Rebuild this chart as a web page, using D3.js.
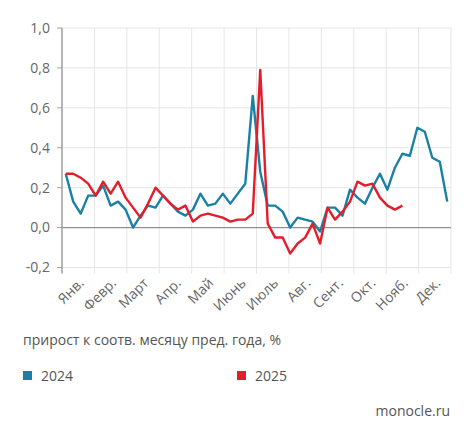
<!DOCTYPE html>
<html lang="ru">
<head>
<meta charset="UTF-8">
<title>прирост к соотв. месяцу пред. года</title>
<script src="https://d3js.org/d3.v7.min.js"></script>
<style>
    body { margin: 0; background: #fff; }
    svg { display: block; font-family: "Open Sans", "Noto Sans", sans-serif; }
    .ylab, .xlab { fill: #666; font-size: 14px; }
    .legend text { fill: #555; font-size: 14px; }
</style>
</head>
<body>
<svg width="475" height="439"></svg>
<script>
// Data: weekly values, index = week of the year
const months = ["Янв.", "Февр.", "Март", "Апр.", "Май", "Июнь", "Июль", "Авг.", "Сент.", "Окт.", "Нояб.", "Дек."];
const yTicks = [-0.2, 0, 0.2, 0.4, 0.6, 0.8, 1.0];
const values2024 = [0.27, 0.13, 0.07, 0.16, 0.16, 0.21, 0.11, 0.13, 0.09, 0.00,
    0.06, 0.11, 0.10, 0.16, 0.12, 0.08, 0.06, 0.09, 0.17, 0.11,
    0.12, 0.17, 0.12, 0.17, 0.22, 0.66, 0.28, 0.11, 0.11, 0.08,
    0.00, 0.05, 0.04, 0.03, -0.02, 0.10, 0.10, 0.06, 0.19, 0.15,
    0.12, 0.20, 0.27, 0.19, 0.30, 0.37, 0.36, 0.50, 0.48, 0.35,
    0.33, 0.13];
const values2025 = [0.27, 0.27, 0.25, 0.22, 0.16, 0.23, 0.17, 0.23, 0.15, 0.10,
    0.05, 0.12, 0.20, 0.16, 0.12, 0.09, 0.11, 0.03, 0.06, 0.07,
    0.06, 0.05, 0.03, 0.04, 0.04, 0.07, 0.79, 0.02, -0.05, -0.05,
    -0.13, -0.08, -0.05, 0.02, -0.08, 0.10, 0.04, 0.08, 0.13, 0.23,
    0.21, 0.22, 0.15, 0.11, 0.09, 0.11];
const seriesNames = ["2024", "2025"];
const seriesColors = ["#1a80a6", "#e21e2a"];

const svg = d3.select("svg");
const plotLeft = 62, plotRight = 451, plotTop = 28, plotBottom = 267.5;
const fmt = v => d3.format(".1f")(v).replace(".", ",").replace("−", "-");

// x in months, weeks spread evenly over the year
const x = d3.scaleLinear().domain([0, 12]).range([plotLeft, plotRight]);
const weekX = i => x((i + 0.5) * 12 / 52);
const y = d3.scaleLinear().domain([-0.2, 1.0]).range([plotBottom, plotTop]);

// grid
svg.append("g").selectAll("line")
    .data(yTicks.filter(d => d !== 0))
    .join("line")
    .attr("x1", plotLeft).attr("x2", plotRight)
    .attr("y1", d => y(d)).attr("y2", d => y(d))
    .attr("stroke", "#e6e6e6").attr("stroke-width", 1);

svg.append("g").selectAll("line")
    .data(d3.range(0, 13))
    .join("line")
    .attr("x1", d => x(d)).attr("x2", d => x(d))
    .attr("y1", plotTop).attr("y2", plotBottom + 6)
    .attr("stroke", "#e6e6e6").attr("stroke-width", 1);

// y axis line + ticks
svg.append("line")
    .attr("x1", plotLeft).attr("x2", plotLeft)
    .attr("y1", plotTop).attr("y2", plotBottom + 6)
    .attr("stroke", "#a0a0a0").attr("stroke-width", 1.5);
svg.append("g").selectAll("line")
    .data(yTicks)
    .join("line")
    .attr("x1", plotLeft - 5).attr("x2", plotLeft)
    .attr("y1", d => y(d)).attr("y2", d => y(d))
    .attr("stroke", "#a0a0a0").attr("stroke-width", 1);

// zero line
svg.append("line")
    .attr("x1", plotLeft).attr("x2", plotRight)
    .attr("y1", y(0)).attr("y2", y(0))
    .attr("stroke", "#909090").attr("stroke-width", 1.2);

svg.append("g").selectAll("text")
    .data(yTicks)
    .join("text")
    .attr("class", "ylab")
    .attr("x", 50)
    .attr("y", d => y(d))
    .attr("dy", "0.35em")
    .attr("text-anchor", "end")
    .text(fmt);

// month labels
svg.append("g").selectAll("text")
    .data(months)
    .join("text")
    .attr("class", "xlab")
    .attr("text-anchor", "end")
    .attr("transform", (d, i) => `translate(${x(i + 0.5) + 3},${plotBottom + 13}) rotate(-45)`)
    .attr("dy", "0.35em")
    .text(d => d);

// lines
const line = d3.line()
    .x((d, i) => weekX(i))
    .y(d => y(d));

[values2024, values2025].forEach((vals, k) => {
    svg.append("path")
        .datum(vals)
        .attr("fill", "none")
        .attr("stroke", seriesColors[k])
        .attr("stroke-width", 2.4)
        .attr("stroke-linejoin", "round")
        .attr("d", line);
});

// legend
const legend = svg.append("g").attr("class", "legend");
legend.append("text")
    .attr("x", 23).attr("y", 345)
    .text("прирост к соотв. месяцу пред. года, %");

const legendX = [23, 237];
seriesNames.forEach((name, k) => {
    legend.append("rect")
        .attr("x", legendX[k]).attr("y", 371)
        .attr("width", 9).attr("height", 9)
        .attr("fill", seriesColors[k]);
    legend.append("text")
        .attr("x", legendX[k] + 18).attr("y", 381)
        .text(name);
});

legend.append("text")
    .attr("x", 450).attr("y", 416)
    .attr("text-anchor", "end")
    .text("monocle.ru");
</script>
</body>
</html>
